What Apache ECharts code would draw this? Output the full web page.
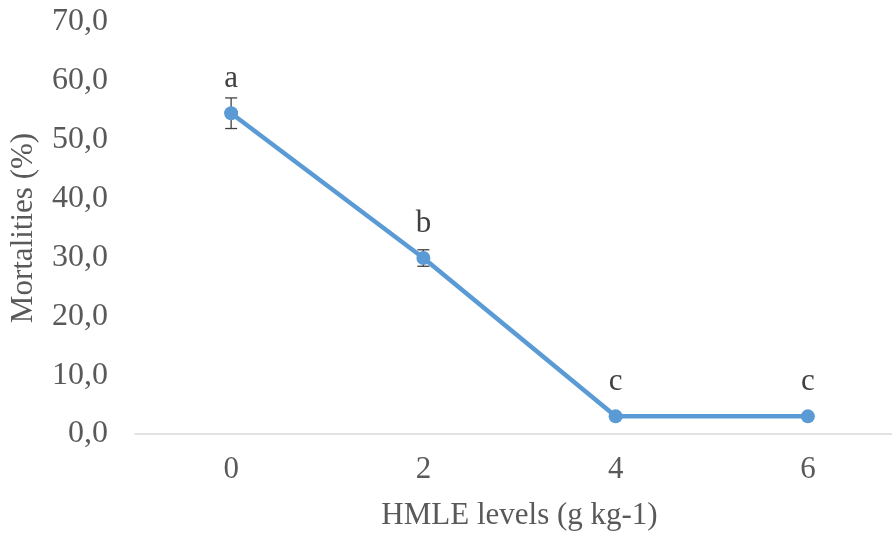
<!DOCTYPE html>
<html>
<head>
<meta charset="utf-8">
<script src="https://cdn.jsdelivr.net/npm/echarts@6/dist/echarts.min.js"></script>
<style>html,body{margin:0;padding:0;background:#fff;overflow:hidden;width:892px;height:537px;}#c{width:904px;height:537px;}</style>
</head>
<body>
<div id="c"></div>
<script>
const categories = ['0', '2', '4', '6'];
const mortality = [54.5, 29.9, 3.0, 3.0];
const errors = [2.6, 1.4, 0, 0];
const letters = ['a', 'b', 'c', 'c'];
const yTicks = [0, 10, 20, 30, 40, 50, 60, 70];

const font = '"Liberation Serif", "Times New Roman", serif';
const chart = echarts.init(document.getElementById('c'));
chart.setOption({
  animation: false,
  grid: { left: 134, right: 0, top: 22, bottom: 103 },
  xAxis: {
    type: 'category',
    data: categories,
    boundaryGap: true,
    name: 'HMLE levels (g kg-1)',
    nameLocation: 'middle',
    nameGap: 66,
    nameTextStyle: { fontFamily: font, fontSize: 31, color: '#595959' },
    axisLine: { lineStyle: { color: '#d9d9d9', width: 1.5 } },
    axisTick: { show: false },
    axisLabel: { fontFamily: font, fontSize: 31, color: '#595959', margin: 20 }
  },
  yAxis: {
    type: 'value',
    min: yTicks[0],
    max: yTicks[yTicks.length - 1],
    interval: 10,
    name: 'Mortalities (%)',
    nameLocation: 'middle',
    nameGap: 96,
    nameTextStyle: { fontFamily: font, fontSize: 31, color: '#595959' },
    axisLine: { show: false },
    axisTick: { show: false },
    splitLine: { show: false },
    axisLabel: {
      fontFamily: font, fontSize: 32, color: '#595959', margin: 27,
      formatter: v => v.toFixed(1).replace('.', ',')
    }
  },
  series: [
    {
      type: 'line',
      data: mortality,
      symbol: 'circle',
      symbolSize: 14,
      lineStyle: { color: '#5B9BD5', width: 4.5 },
      itemStyle: { color: '#5B9BD5' },
      label: {
        show: true,
        position: 'top',
        distance: 12,
        fontFamily: font,
        fontSize: 31,
        color: '#404040',
        formatter: p => letters[p.dataIndex]
      },
      z: 3
    },
    {
      type: 'custom',
      z: 2,
      data: mortality.map((v, i) => [i, v - errors[i], v + errors[i]]),
      renderItem: (params, api) => {
        const lo = api.coord([api.value(0), api.value(1)]);
        const hi = api.coord([api.value(0), api.value(2)]);
        if (Math.abs(lo[1] - hi[1]) < 0.5) return null;
        const w = 6;
        const st = { stroke: '#404040', lineWidth: 1.3 };
        return {
          type: 'group',
          children: [
            { type: 'line', shape: { x1: lo[0], y1: lo[1], x2: hi[0], y2: hi[1] }, style: st },
            { type: 'line', shape: { x1: lo[0] - w, y1: lo[1], x2: lo[0] + w, y2: lo[1] }, style: st },
            { type: 'line', shape: { x1: hi[0] - w, y1: hi[1], x2: hi[0] + w, y2: hi[1] }, style: st }
          ]
        };
      }
    }
  ]
});
</script>
</body>
</html>
